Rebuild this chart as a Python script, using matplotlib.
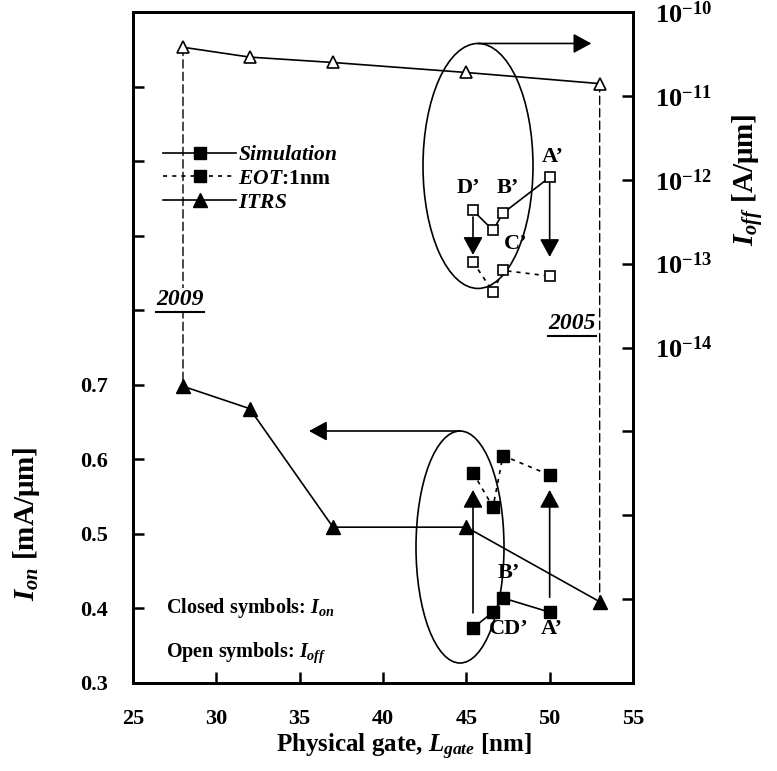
import numpy as np
import matplotlib
matplotlib.use("Agg")
import matplotlib.pyplot as plt
from matplotlib.patches import Ellipse, ConnectionPatch
from matplotlib.lines import Line2D
from matplotlib.ticker import FixedLocator, FuncFormatter, NullLocator

plt.rcParams['font.family'] = ['Liberation Serif', 'DejaVu Serif']
plt.rcParams['font.weight'] = 'bold'
plt.rcParams['mathtext.fontset'] = 'custom'
plt.rcParams['mathtext.rm'] = 'Liberation Serif:bold'
plt.rcParams['mathtext.bf'] = 'Liberation Serif:bold'
plt.rcParams['mathtext.it'] = 'Liberation Serif:italic:bold'
plt.rcParams['mathtext.bfit'] = 'Liberation Serif:italic:bold'

# ---------------- data ----------------
lgate_itrs = [28, 32, 37, 45, 53]
ion_itrs = [0.698, 0.668, 0.509, 0.509, 0.409]
ioff_itrs = [3.8e-11, 2.9e-11, 2.5e-11, 1.9e-11, 1.4e-11]

# order: D', C', B', A'
lgate_sim = [45.4, 46.6, 47.2, 50.0]
ion_sim = [0.374, 0.395, 0.414, 0.395]
ion_eot = [0.582, 0.536, 0.605, 0.579]
ioff_sim = [4.3e-13, 2.5e-13, 4.0e-13, 1.07e-12]
ioff_eot = [1.05e-13, 4.6e-14, 8.3e-14, 7.1e-14]

# arrows (D' and A')
ion_arrow_start = [0.394, 0.415]
ion_arrow_tip = [0.559, 0.559]
ioff_arrow_start = [3.6e-13, 9.4e-13]
ioff_arrow_tip = [1.27e-13, 1.2e-13]

xticks = [25, 30, 35, 40, 45, 50, 55]
yticks_left = [0.3, 0.4, 0.5, 0.6, 0.7, 0.8, 0.9, 1.0, 1.1, 1.2]
left_labeled_max = 0.7
right_exponents = [-18, -17, -16, -15, -14, -13, -12, -11, -10]
right_labeled_min = -14

W, H = 777, 771
fig = plt.figure(figsize=(W / 100, H / 100), dpi=100)
ax = fig.add_axes([133 / W, 1 - 683 / H, 500 / W, 671 / H])
ax2 = ax.twinx()
ax2.set_position(ax.get_position())

ax.set_xlim(25, 55)
ax.set_ylim(0.3, 1.2)
ax2.set_yscale('log')
ax2.set_ylim(1e-18, 1e-10)

for a in (ax, ax2):
    for s in a.spines.values():
        s.set_linewidth(2)

# ticks
ax.xaxis.set_major_locator(FixedLocator(xticks))
ax.xaxis.set_major_formatter(FuncFormatter(lambda v, p: f"{v:g}"))
ax.yaxis.set_major_locator(FixedLocator(yticks_left))
ax.yaxis.set_major_formatter(FuncFormatter(
    lambda v, p: f"{v:.1f}" if v <= left_labeled_max + 1e-9 else ""))
ax.tick_params(axis='both', direction='in', length=8, width=1.8,
               labelsize=16, top=False, right=False)
ax.tick_params(axis='x', pad=19)
ax.tick_params(axis='y', pad=18)
ax2.yaxis.set_major_locator(FixedLocator([10.0 ** e for e in right_exponents]))
ax2.yaxis.set_minor_locator(NullLocator())
ax2.yaxis.set_major_formatter(FuncFormatter(
    lambda v, p: (r"$10^{%d}$" % round(np.log10(v)))
    if round(np.log10(v)) >= right_labeled_min else ""))
ax2.tick_params(axis='y', direction='in', length=8, width=1.8,
                labelsize=19, pad=16)

# ---------------- Ion (left axis) ----------------
ax.plot(lgate_itrs, ion_itrs, '-', color='black', lw=1.2, marker='^', ms=9.5,
        mfc='black', mec='black', zorder=4)
ax.plot(lgate_sim, ion_sim, '-', color='black', lw=1.2, marker='s', ms=8.5,
        mfc='black', mec='black', zorder=4)
ax.plot(lgate_sim, ion_eot, linestyle=(0, (2.5, 3)), color='black', lw=1.2,
        marker='s', ms=8.5, mfc='black', mec='black', zorder=4)

# ---------------- Ioff (right axis) ----------------
ax2.plot(lgate_itrs, ioff_itrs, '-', color='black', lw=1.2, marker='^', ms=9,
         mfc='white', mec='black', mew=1.2, zorder=4)
ax2.plot(lgate_sim, ioff_sim, '-', color='black', lw=1.2, marker='s', ms=7.5,
         mfc='white', mec='black', mew=1.2, zorder=4)
ax2.plot(lgate_sim, ioff_eot, linestyle=(0, (2.5, 3)), color='black', lw=1.2,
         marker='s', ms=7.5, mfc='white', mec='black', mew=1.2, zorder=4)

arrow_kw = dict(arrowstyle='-|>,head_length=1.1,head_width=0.6',
                mutation_scale=10, color='black', lw=1.2,
                shrinkA=0, shrinkB=0)
for i, idx in enumerate([0, 3]):
    x = lgate_sim[idx]
    ax.annotate('', xy=(x, ion_arrow_tip[i]), xytext=(x, ion_arrow_start[i]),
                arrowprops=arrow_kw, zorder=3)
    ax2.annotate('', xy=(x, ioff_arrow_tip[i]), xytext=(x, ioff_arrow_start[i]),
                 arrowprops=arrow_kw, zorder=3)

# ellipses with arrows to their axes
ell_up = dict(xy=(45.70, 0.9935), w=6.60, h=0.3286, arrow_to=52.5)
ell_lo = dict(xy=(44.62, 0.4824), w=5.28, h=0.3112, arrow_to=35.56)
for e in (ell_up, ell_lo):
    ax.add_patch(Ellipse(e['xy'], e['w'], e['h'], fill=False, ec='black',
                         lw=1.2, zorder=2))
    ytop = e['xy'][1] + e['h'] / 2
    ax.annotate('', xy=(e['arrow_to'], ytop), xytext=(e['xy'][0], ytop),
                arrowprops=arrow_kw, zorder=2)

# dashed year connectors
for i in (0, 4):
    cp = ConnectionPatch(xyA=(lgate_itrs[i], ioff_itrs[i]), coordsA=ax2.transData,
                         xyB=(lgate_itrs[i], ion_itrs[i]), coordsB=ax.transData,
                         linestyle=(0, (6, 3)), lw=1.0, color='black', zorder=1)
    ax.add_artist(cp)

# point labels
lab_kw = dict(fontsize=16, fontweight='bold', ha='center', va='center', zorder=6)
ax.text(50.2, 1.0056, "A’", **lab_kw)
ax.text(45.1, 0.964, "D’", **lab_kw)
ax.text(47.5, 0.964, "B’", **lab_kw)
ax.text(47.95, 0.889, "C’", **lab_kw)
ax.text(47.55, 0.4476, "B’", **lab_kw)
ax.text(47.55, 0.372, "CD’", **lab_kw)
ax.text(50.15, 0.372, "A’", **lab_kw)

year_texts = []
for (xx, yy, s) in [(27.82, 0.8138, "2009"), (51.33, 0.7816, "2005")]:
    t = ax.text(xx, yy, s, fontsize=17, fontweight='bold', fontstyle='italic',
                ha='center', va='center', zorder=6,
                bbox=dict(facecolor='white', edgecolor='none', pad=1))
    year_texts.append(t)

ax.text(27.0, 0.4006, "Closed symbols: $I_{on}$", fontsize=14.5,
        fontweight='bold', ha='left', va='center', zorder=6)
ax.text(27.0, 0.3402, "Open symbols: $I_{off}$", fontsize=14.5,
        fontweight='bold', ha='left', va='center', zorder=6)

# legend
handles = [
    Line2D([], [], color='black', lw=1.2, marker='s', ms=8.5),
    Line2D([], [], color='black', lw=1.2, linestyle=(0, (2.5, 3)), marker='s', ms=8.5),
    Line2D([], [], color='black', lw=1.2, marker='^', ms=9.5),
]
labels = [r"$Simulation$", r"$EOT$:1nm", r"$ITRS$"]
leg = ax.legend(handles, labels, loc='upper left',
                bbox_to_anchor=(163 / W, 1 - 145 / H), bbox_transform=fig.transFigure,
                frameon=False, handlelength=3.4, handletextpad=0.1,
                labelspacing=0.18, borderpad=0, borderaxespad=0,
                prop=dict(size=15.5, weight='bold'))
leg.set_zorder(7)

# axis labels
fig.text(404 / W, 1 - 747 / H, "Physical gate, $L_{gate}$ [nm]", fontsize=18,
         fontweight='bold', ha='center', va='center')
fig.text(27 / W, 1 - 524 / H, "$I_{on}$ [mA/μm]", rotation=90, fontsize=21,
         fontweight='bold', ha='center', va='center')
fig.text(748 / W, 1 - 180 / H, "$I_{off}$ [A/μm]", rotation=90, fontsize=21,
         fontweight='bold', ha='center', va='center')

# underline years
fig.canvas.draw()
r = fig.canvas.get_renderer()
for t in year_texts:
    bb = t.get_window_extent(renderer=r)
    y0 = (bb.y0 - 2) / (H)
    fig.add_artist(Line2D([bb.x0 / W, bb.x1 / W], [y0, y0], color='black', lw=1.5))

fig.savefig("out.png", dpi=100)
